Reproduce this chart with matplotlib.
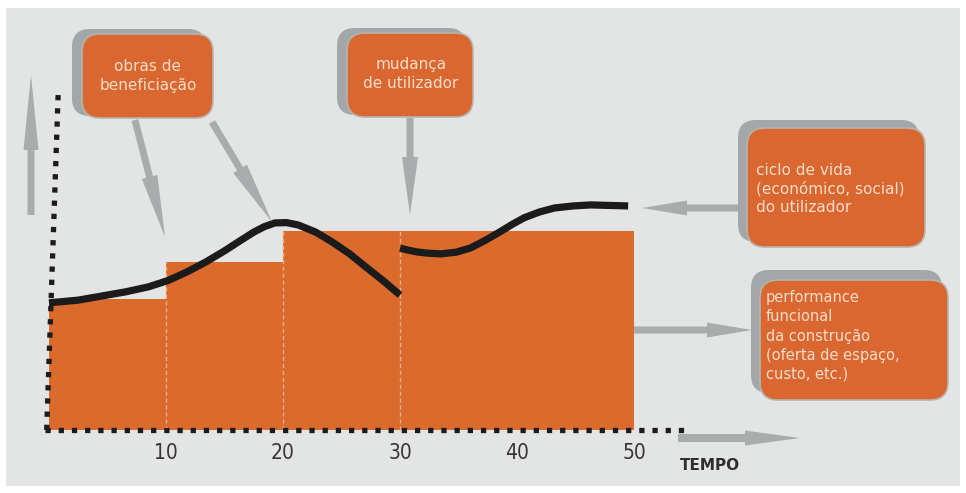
import numpy as np
import matplotlib.pyplot as plt
from matplotlib.patches import FancyBboxPatch, Rectangle, FancyArrow

# performance funcional da construção (steps between interventions)
bar_edges = [0, 10, 20, 30, 50]
bar_heights = [38.5, 49.5, 58.5, 58.5]

# ciclo de vida do utilizador, broken at the change of user (t=30)
curve1_t = [0, 2.5, 4.5, 6.5, 8.5, 10.2, 11.8, 13.5, 15.1, 16.4, 17.5, 18.4,
            19.3, 20.3, 21.3, 22.8, 24.2, 25.7, 27.1, 28.6, 30]
curve1_v = [37.4, 38.2, 39.4, 40.6, 42.1, 44.0, 46.5, 49.6, 52.9, 55.8, 58.2, 59.8,
            60.9, 61.0, 60.3, 58.2, 55.3, 51.8, 47.9, 43.8, 39.7]
curve2_t = [30, 30.7, 31.4, 32.4, 33.5, 34.8, 36.0, 37.3, 38.5, 39.6, 40.6,
            41.9, 43.2, 44.8, 46.3, 49.5]
curve2_v = [53.5, 52.9, 52.4, 52.0, 51.8, 52.3, 53.5, 55.8, 58.2, 60.5, 62.4,
            64.1, 65.3, 65.9, 66.2, 65.9]

xticks = [10, 20, 30, 40, 50]
xtick_labels = ["10", "20", "30", "40", "50"]

W, H = 966, 493
x0px, xscale = 49, 11.7
y0px, yscale = 430, 3.4

ORANGE = "#db6a2d"
BOX = "#d9672f"
GREY = "#a9abad"
TXT = "#f6dccb"

fig = plt.figure(figsize=(W / 100, H / 100), dpi=100, facecolor="white")

# photo backdrop
bg = fig.add_axes([0, 0, 1, 1])
bg.set_xlim(0, W)
bg.set_ylim(H, 0)
bg.axis("off")
bg.add_patch(Rectangle((6, 8), 954, 478, fc="#e3e5e4", ec="none"))

# chart axes, data units
ax = fig.add_axes([0, 0, 1, 1])
ax.set_xlim(-x0px / xscale, (W - x0px) / xscale)
ax.set_ylim(-(H - y0px) / yscale, y0px / yscale)
ax.axis("off")
ax.patch.set_alpha(0)

widths = np.diff(bar_edges)
ax.bar(bar_edges[:-1], bar_heights, width=widths, align="edge",
       color=ORANGE, linewidth=0, zorder=2)
ax.vlines(bar_edges[1:-1], 0, bar_heights[1:], colors="#eab08c",
          linewidth=1, linestyles=(0, (3, 2)), zorder=3)

for tt, vv in [(curve1_t, curve1_v), (curve2_t, curve2_v)]:
    ax.plot(tt, vv, color="#1b1b1b", lw=5.2, solid_capstyle="butt",
            solid_joinstyle="round", zorder=5)

# dotted axes
ax.plot([-0.3, 54.8], [0, 0], color="#1c1c1c", lw=3.8,
        linestyle=(0, (1, 1.5)), dash_capstyle="butt", zorder=4)
ax.plot([-0.2, 0.8], [0, 100.5], color="#1c1c1c", lw=3.8,
        linestyle=(0, (1, 1.5)), dash_capstyle="butt", zorder=4)

for t, lab in zip(xticks, xtick_labels):
    ax.text(t, -6.8, lab, ha="center", va="center", fontsize=15,
            family="DejaVu Sans", fontstretch="condensed", color="#353535")

# annotation layer in pixel coordinates
ov = fig.add_axes([0, 0, 1, 1])
ov.set_xlim(0, W)
ov.set_ylim(H, 0)
ov.axis("off")
ov.patch.set_alpha(0)


def box(x1, y1, x2, y2, sx, sy):
    ov.add_patch(FancyBboxPatch((x1 - sx, y1 - sy), x2 - x1 + 3, y2 - y1 + 3,
                                boxstyle="round,pad=0,rounding_size=18",
                                fc="#a2a7aa", ec="none", zorder=2))
    ov.add_patch(FancyBboxPatch((x1, y1), x2 - x1, y2 - y1,
                                boxstyle="round,pad=0,rounding_size=18",
                                fc=BOX, ec="#b8b2ad", lw=1.2, zorder=3))


def arrow(xa, ya, xb, yb, hl=55, hw=16, w=7):
    ov.add_patch(FancyArrow(xa, ya, xb - xa, yb - ya, width=w, head_width=hw,
                            head_length=hl, length_includes_head=True,
                            fc=GREY, ec="none", zorder=1))


box(82, 34, 213, 118, 10, 5)
box(347, 33, 473, 117, 10, 5)
box(747, 128, 925, 247, 9, 8)
box(760, 280, 948, 400, 9, 10)

ov.text(148, 76, "obras de\nbeneficiação", ha="center", va="center",
        fontsize=11, color=TXT, linespacing=1.35, zorder=4)
ov.text(411, 74, "mudança\nde utilizador", ha="center", va="center",
        fontsize=11, color=TXT, linespacing=1.35, zorder=4)
ov.text(756, 189, "ciclo de vida\n(económico, social)\ndo utilizador",
        ha="left", va="center", fontsize=11, color=TXT, linespacing=1.3, zorder=4)
ov.text(766, 336, "performance\nfuncional\nda construção\n(oferta de espaço,\ncusto, etc.)",
        ha="left", va="center", fontsize=10.5, color=TXT, linespacing=1.35, zorder=4)

arrow(31, 215, 31, 75, hl=75, hw=15, w=7)
arrow(135, 120, 165, 237, hl=62)
arrow(212, 122, 272, 222, hl=62)
arrow(410, 118, 410, 215, hl=58)
arrow(742, 208, 642, 208, hl=45, hw=15)
arrow(634, 330, 752, 330, hl=45, hw=15)
arrow(678, 438, 800, 438, hl=55, hw=15, w=8)

ov.text(680, 465, "TEMPO", ha="left", va="center", fontsize=11,
        weight="bold", color="#2e2e2e")

fig.savefig("out.png", dpi=100, facecolor="white")
